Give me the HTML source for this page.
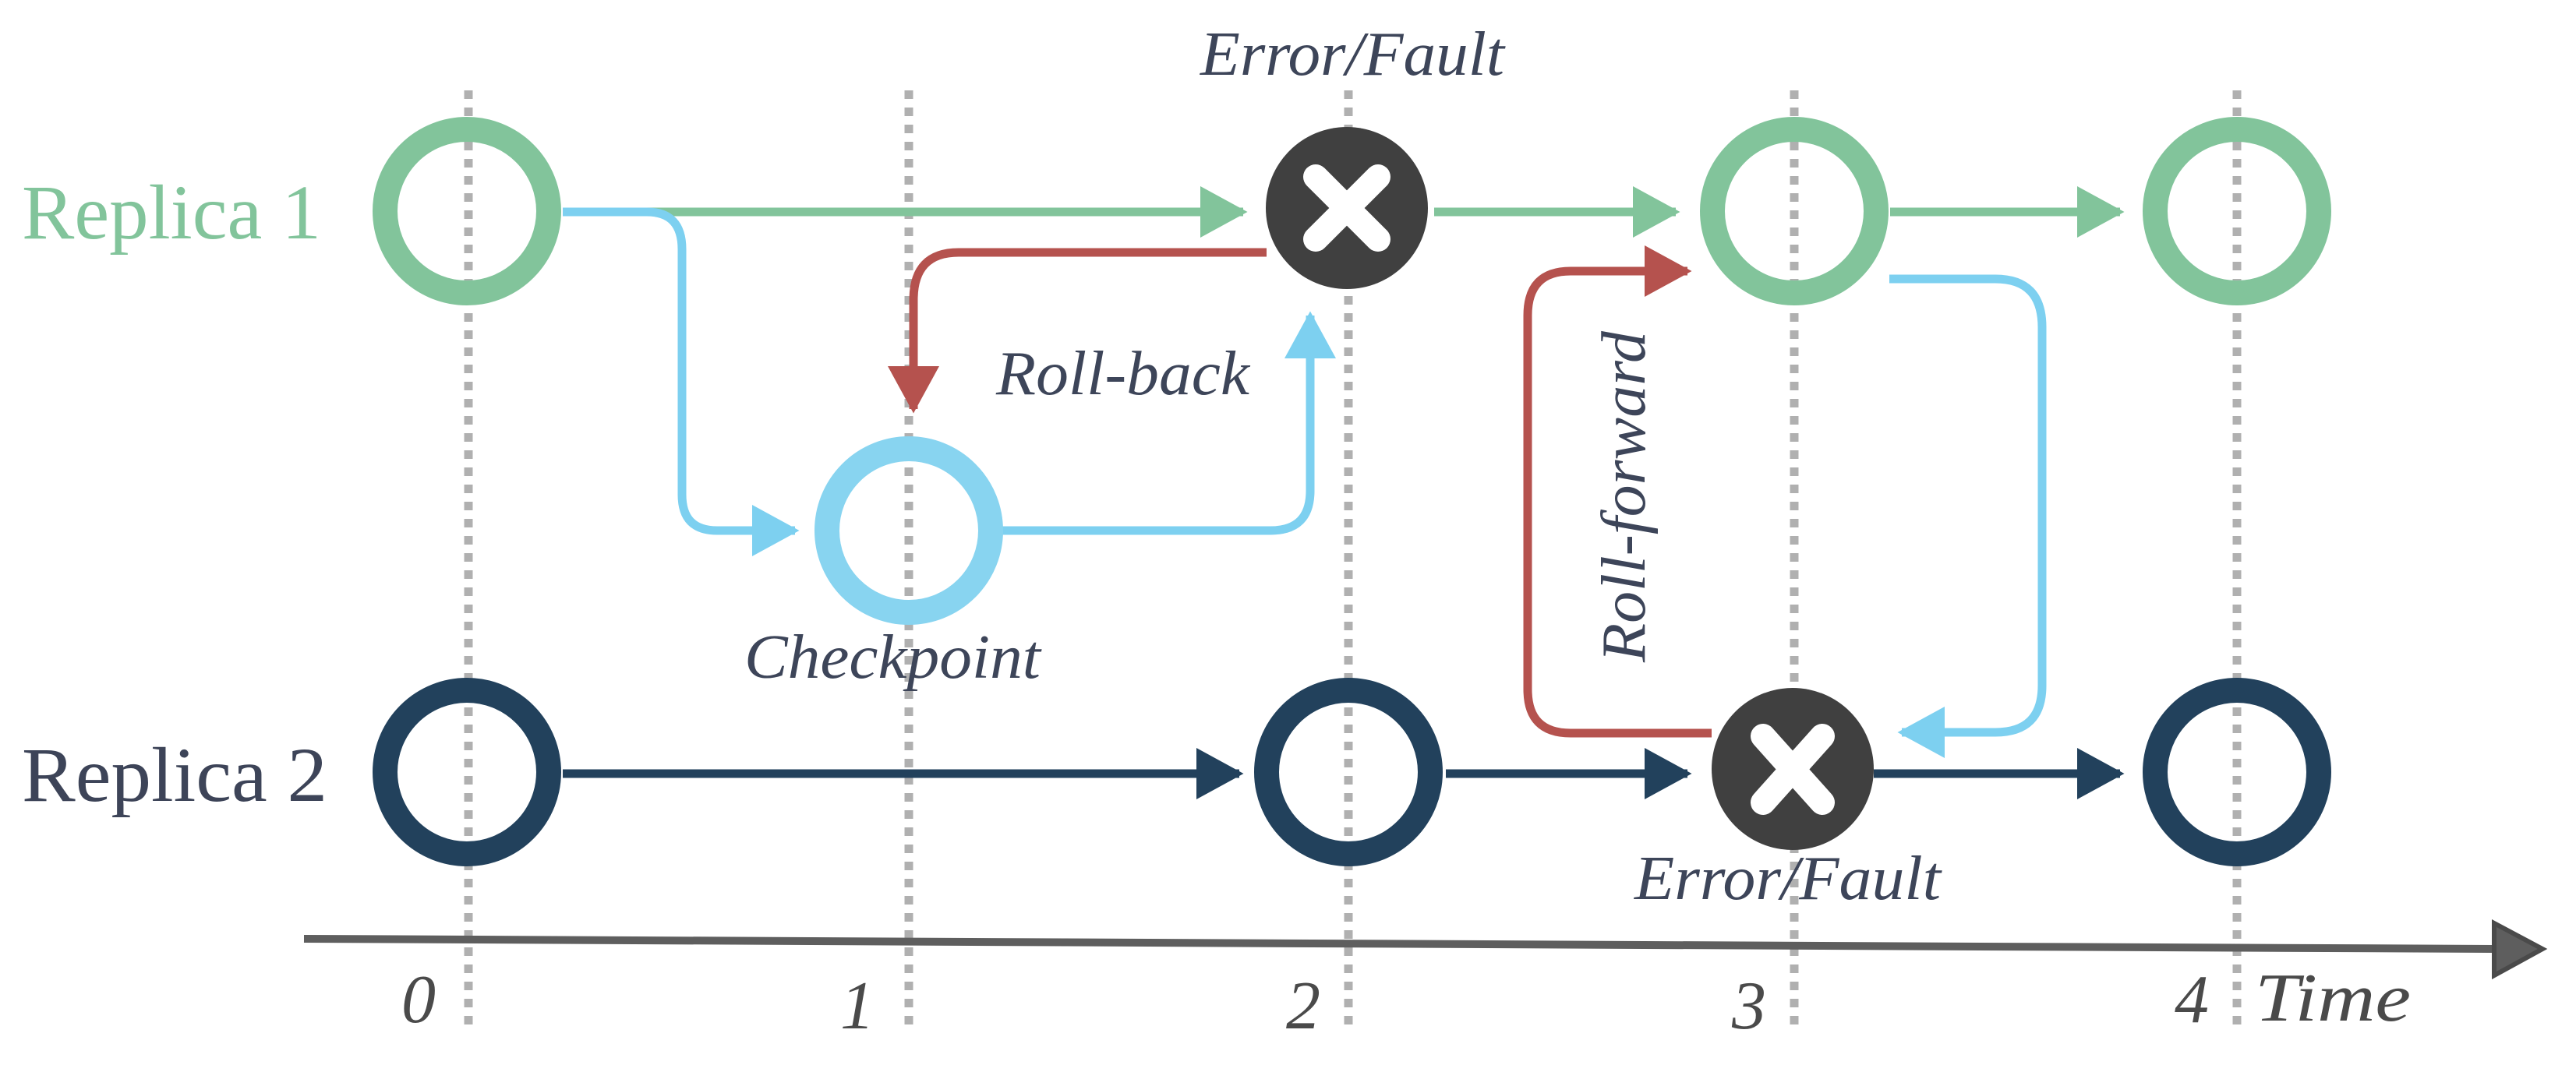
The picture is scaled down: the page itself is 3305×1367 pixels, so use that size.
<!DOCTYPE html>
<html><head><meta charset="utf-8"><style>html,body{margin:0;padding:0;background:#fff}svg{display:block}</style></head>
<body>
<svg width="3305" height="1367" viewBox="0 0 3305 1367" xmlns="http://www.w3.org/2000/svg">
<defs>
<marker id="ag" markerWidth="6" markerHeight="6" refX="5" refY="3" orient="auto" markerUnits="strokeWidth"><path d="M0,0 L5.5,3 L0,6 Z" fill="#82c49b"/></marker>
<marker id="an" markerWidth="6" markerHeight="6" refX="5" refY="3" orient="auto" markerUnits="strokeWidth"><path d="M0,0 L5.5,3 L0,6 Z" fill="#22415c"/></marker>
<marker id="ab" markerWidth="6" markerHeight="6" refX="5" refY="3" orient="auto" markerUnits="strokeWidth"><path d="M0,0 L5.5,3 L0,6 Z" fill="#7dd0f0"/></marker>
<marker id="ar" markerWidth="6" markerHeight="6" refX="5" refY="3" orient="auto" markerUnits="strokeWidth"><path d="M0,0 L5.5,3 L0,6 Z" fill="#b5524e"/></marker>
</defs>
<g stroke="#b0b0b0" stroke-width="11" stroke-dasharray="11,11">
<line x1="601" y1="116" x2="601" y2="1325"/>
<line x1="1166" y1="116" x2="1166" y2="1325"/>
<line x1="1730" y1="116" x2="1730" y2="1325"/>
<line x1="2302" y1="116" x2="2302" y2="1325"/>
<line x1="2870" y1="116" x2="2870" y2="1325"/>
</g>
<!-- axis -->
<path d="M390,1205 L3200,1218" stroke="#5e5e5e" stroke-width="10" fill="none"/>
<path d="M3200,1185 L3262,1218 L3200,1252 Z" fill="#5e5e5e" stroke="#4a4a4a" stroke-width="6"/>
<!-- connectors -->
<g fill="none" stroke-width="11">
<path d="M722,272 H1595" stroke="#82c49b" marker-end="url(#ag)"/>
<path d="M1840,272 H2150" stroke="#82c49b" marker-end="url(#ag)"/>
<path d="M2425,272 H2720" stroke="#82c49b" marker-end="url(#ag)"/>
<path d="M722,993 H1590" stroke="#22415c" marker-end="url(#an)"/>
<path d="M1855,993 H2165" stroke="#22415c" marker-end="url(#an)"/>
<path d="M2404,993 H2720" stroke="#22415c" marker-end="url(#an)"/>
<path d="M722,272 H830 Q875,272 875,320 V635 Q875,681 920,681 H1020" stroke="#7dd0f0" marker-end="url(#ab)"/>
<path d="M1281,681 H1630 Q1681,681 1681,630 V405" stroke="#7dd0f0" marker-end="url(#ab)"/>
<path d="M2424,358 H2560 Q2620,358 2620,420 V880 Q2620,940 2560,940 H2440" stroke="#7dd0f0" marker-end="url(#ab)"/>
<path d="M1625,324 H1230 Q1172,324 1172,385 V525" stroke="#b5524e" marker-end="url(#ar)"/>
<path d="M2196,941 H2015 Q1960,941 1960,885 V405 Q1960,348 2015,348 H2165" stroke="#b5524e" marker-end="url(#ar)"/>
</g>
<!-- nodes -->
<g fill="none" stroke-width="32">
<circle cx="599" cy="271" r="105" stroke="#82c49b"/>
<circle cx="2302" cy="271" r="105" stroke="#82c49b"/>
<circle cx="2870" cy="271" r="105" stroke="#82c49b"/>
<circle cx="1166" cy="681" r="105" stroke="#88d4f0"/>
<circle cx="599" cy="991" r="105" stroke="#22415c"/>
<circle cx="1730" cy="991" r="105" stroke="#22415c"/>
<circle cx="2870" cy="991" r="105" stroke="#22415c"/>
</g>
<g>
<circle cx="1728" cy="267" r="104" fill="#404040"/>
<path d="M1688,227 L1768,307 M1768,227 L1688,307" stroke="#fff" stroke-width="32" stroke-linecap="round"/>
<circle cx="2300" cy="987" r="104" fill="#404040"/>
<path d="M2262,945 L2338,1030 M2338,945 L2262,1030" stroke="#fff" stroke-width="32" stroke-linecap="round"/>
</g>
<!-- labels -->
<g font-family="Liberation Serif, serif">
<text x="28" y="306" font-size="100" fill="#82c49b" textLength="384" lengthAdjust="spacingAndGlyphs">Replica 1</text>
<text x="28" y="1028" font-size="100" fill="#3d4458" textLength="392" lengthAdjust="spacingAndGlyphs">Replica 2</text>
<g font-style="italic" fill="#3d4559" font-size="80">
<text x="1540" y="96" textLength="390" lengthAdjust="spacingAndGlyphs">Error/Fault</text>
<text x="2097" y="1154" textLength="393" lengthAdjust="spacingAndGlyphs">Error/Fault</text>
<text x="1278" y="506" textLength="325" lengthAdjust="spacingAndGlyphs">Roll-back</text>
<text x="955" y="870" textLength="380" lengthAdjust="spacingAndGlyphs">Checkpoint</text>
<text transform="translate(2110,850) rotate(-90)" x="0" y="0" textLength="425" lengthAdjust="spacingAndGlyphs">Roll-forward</text>
</g>
<g font-style="italic" fill="#4a4a4a" font-size="88">
<text x="515" y="1312">0</text>
<text x="1078" y="1320">1</text>
<text x="1650" y="1320">2</text>
<text x="2222" y="1320">3</text>
<text x="2790" y="1312">4</text>
<text x="2893" y="1310" textLength="200" lengthAdjust="spacingAndGlyphs">Time</text>
</g>
</g>
</svg>
</body></html>
